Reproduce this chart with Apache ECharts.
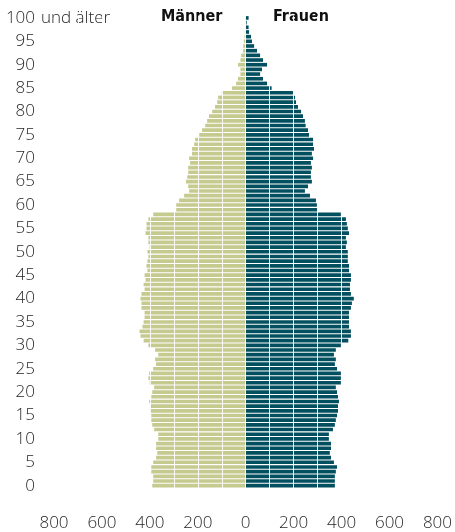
<!DOCTYPE html>
<html><head><meta charset="utf-8">
<script src="https://cdn.jsdelivr.net/npm/echarts@6/dist/echarts.min.js"></script>
<style>html,body{margin:0;padding:0;background:#fff}#c{width:455px;height:532px}</style>
</head><body><div id="c"></div>
<script>
const ages = [0,1,2,3,4,5,6,7,8,9,10,11,12,13,14,15,16,17,18,19,20,21,22,23,24,25,26,27,28,29,30,31,32,33,34,35,36,37,38,39,40,41,42,43,44,45,46,47,48,49,50,51,52,53,54,55,56,57,58,59,60,61,62,63,64,65,66,67,68,69,70,71,72,73,74,75,76,77,78,79,80,81,82,83,84,85,86,87,88,89,90,91,92,93,94,95,96,97,98,99,100];
const maenner = [390,386,386,394,394,386,374,369,374,374,365,365,382,390,394,394,399,399,403,394,390,382,401,406,403,386,374,378,365,378,406,426,439,443,431,426,422,422,435,435,439,435,422,426,418,422,410,414,410,406,410,401,406,406,418,414,414,406,386,290,290,278,257,236,240,249,244,240,240,232,236,224,224,215,211,194,182,169,161,153,140,128,119,115,100,57,40,32,22,22,32,22,19,11,11,8,5,4,3,1,2];
const frauen = [372,372,372,376,381,368,356,351,356,356,347,347,364,372,376,381,385,385,389,385,381,376,397,397,397,381,372,376,368,376,397,428,439,439,431,431,431,431,439,443,451,439,435,435,439,439,431,431,426,426,426,418,422,418,431,426,422,418,397,300,297,293,268,247,260,276,272,272,276,272,281,276,285,281,281,264,260,250,247,239,231,218,210,206,197,108,89,72,60,68,89,72,60,47,35,26,22,14,12,4,12];
const seriesNames = ['Männer', 'Frauen'];
const topLabelSuffix = 'und älter';

const labelFont = { color: '#262626', fontFamily: 'Open Sans', fontWeight: 300, fontSize: 17 };
const chart = echarts.init(document.getElementById('c'), null, { renderer: 'canvas' });
chart.setOption({
  animation: false,
  grid: { left: 54, right: 17, top: 15.6, bottom: 38.3, containLabel: false },
  xAxis: {
    type: 'value', min: -800, max: 800, interval: 100, z: 5,
    axisLine: { show: false }, axisTick: { show: false },
    splitLine: { show: true, lineStyle: { color: '#ffffff', width: 1, opacity: 0.9 } },
    axisLabel: Object.assign({ margin: 27, formatter: v => (v % 200 === 0 ? String(Math.abs(v)) : '') }, labelFont)
  },
  yAxis: [
    {
      type: 'category', data: ages,
      axisLine: { show: false }, axisTick: { show: false }, splitLine: { show: false },
      axisLabel: Object.assign({ interval: 4, margin: 19, align: 'right' }, labelFont)
    },
    {
      type: 'category', data: ages, position: 'left',
      axisLine: { show: false }, axisTick: { show: false }, splitLine: { show: false },
      axisLabel: Object.assign({ interval: 0, margin: 13, align: 'left',
        formatter: v => (String(v) === String(ages[ages.length - 1]) ? topLabelSuffix : '') }, labelFont)
    }
  ],
  series: [
    { type: 'bar', name: seriesNames[0], yAxisIndex: 0, data: maenner.map(v => -v),
      barGap: '-100%', barCategoryGap: '22%', itemStyle: { color: '#c5ca8f' } },
    { type: 'bar', name: seriesNames[1], yAxisIndex: 0, data: frauen,
      barGap: '-100%', barCategoryGap: '22%', itemStyle: { color: '#02505f' } }
  ],
  graphic: [
    { type: 'text', left: 161, top: 9, style: { text: seriesNames[0], font: 'bold 16px "DejaVu Sans Condensed", "Liberation Sans Narrow", sans-serif', fill: '#111' } },
    { type: 'text', left: 273, top: 9, style: { text: seriesNames[1], font: 'bold 16px "DejaVu Sans Condensed", "Liberation Sans Narrow", sans-serif', fill: '#111' } }
  ]
});
</script></body></html>
